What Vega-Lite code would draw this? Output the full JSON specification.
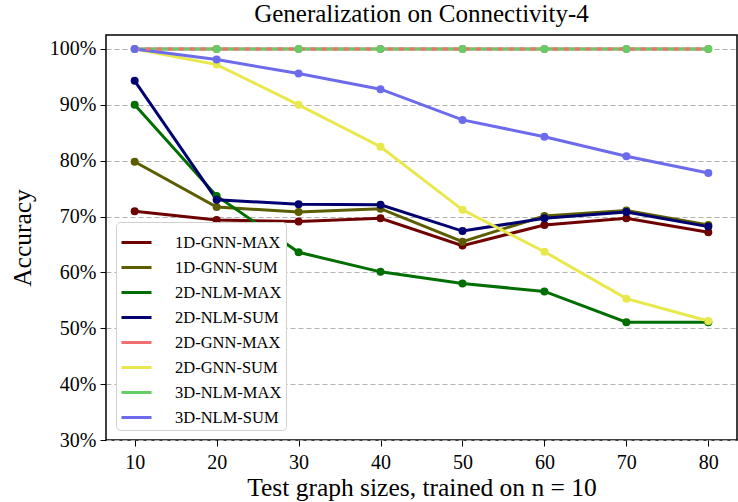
{
  "$schema": "https://vega.github.io/schema/vega-lite/v6.json",
  "autosize": {"type": "none"},
  "width": 631,
  "height": 405,
  "padding": {"left": 106, "top": 35, "right": 1, "bottom": 62},
  "background": "white",
  "title": {"text": "Generalization on Connectivity-4", "font": "Liberation Serif", "fontSize": 25, "fontWeight": "normal", "color": "black", "anchor": "middle", "offset": 8},
  "config": {
    "view": {"stroke": "black", "strokeWidth": 1.5},
    "title": {"font": "Liberation Serif"},
    "axis": {"labelFont": "Liberation Serif", "titleFont": "Liberation Serif", "labelColor": "black", "titleColor": "black", "tickColor": "black", "domain": false, "titleFontWeight": "normal"},
    "legend": {"labelFont": "Liberation Serif"}
  },
  "data": {"values": [
    {"series": "1D-GNN-MAX", "n": 10, "acc": 70.95},
    {"series": "1D-GNN-MAX", "n": 20, "acc": 69.4},
    {"series": "1D-GNN-MAX", "n": 30, "acc": 69.1},
    {"series": "1D-GNN-MAX", "n": 40, "acc": 69.7},
    {"series": "1D-GNN-MAX", "n": 50, "acc": 64.8},
    {"series": "1D-GNN-MAX", "n": 60, "acc": 68.5},
    {"series": "1D-GNN-MAX", "n": 70, "acc": 69.7},
    {"series": "1D-GNN-MAX", "n": 80, "acc": 67.2},
    {"series": "1D-GNN-SUM", "n": 10, "acc": 79.8},
    {"series": "1D-GNN-SUM", "n": 20, "acc": 71.7},
    {"series": "1D-GNN-SUM", "n": 30, "acc": 70.8},
    {"series": "1D-GNN-SUM", "n": 40, "acc": 71.4},
    {"series": "1D-GNN-SUM", "n": 50, "acc": 65.5},
    {"series": "1D-GNN-SUM", "n": 60, "acc": 70.1},
    {"series": "1D-GNN-SUM", "n": 70, "acc": 71.1},
    {"series": "1D-GNN-SUM", "n": 80, "acc": 68.5},
    {"series": "2D-NLM-MAX", "n": 10, "acc": 90.0},
    {"series": "2D-NLM-MAX", "n": 20, "acc": 73.7},
    {"series": "2D-NLM-MAX", "n": 30, "acc": 63.6},
    {"series": "2D-NLM-MAX", "n": 40, "acc": 60.1},
    {"series": "2D-NLM-MAX", "n": 50, "acc": 58.0},
    {"series": "2D-NLM-MAX", "n": 60, "acc": 56.6},
    {"series": "2D-NLM-MAX", "n": 70, "acc": 51.1},
    {"series": "2D-NLM-MAX", "n": 80, "acc": 51.1},
    {"series": "2D-NLM-SUM", "n": 10, "acc": 94.3},
    {"series": "2D-NLM-SUM", "n": 20, "acc": 73.0},
    {"series": "2D-NLM-SUM", "n": 30, "acc": 72.2},
    {"series": "2D-NLM-SUM", "n": 40, "acc": 72.1},
    {"series": "2D-NLM-SUM", "n": 50, "acc": 67.4},
    {"series": "2D-NLM-SUM", "n": 60, "acc": 69.7},
    {"series": "2D-NLM-SUM", "n": 70, "acc": 70.8},
    {"series": "2D-NLM-SUM", "n": 80, "acc": 68.2},
    {"series": "2D-GNN-MAX", "n": 10, "acc": 100},
    {"series": "2D-GNN-MAX", "n": 20, "acc": 100},
    {"series": "2D-GNN-MAX", "n": 30, "acc": 100},
    {"series": "2D-GNN-MAX", "n": 40, "acc": 100},
    {"series": "2D-GNN-MAX", "n": 50, "acc": 100},
    {"series": "2D-GNN-MAX", "n": 60, "acc": 100},
    {"series": "2D-GNN-MAX", "n": 70, "acc": 100},
    {"series": "2D-GNN-MAX", "n": 80, "acc": 100},
    {"series": "2D-GNN-SUM", "n": 10, "acc": 100},
    {"series": "2D-GNN-SUM", "n": 20, "acc": 97.2},
    {"series": "2D-GNN-SUM", "n": 30, "acc": 90.0},
    {"series": "2D-GNN-SUM", "n": 40, "acc": 82.5},
    {"series": "2D-GNN-SUM", "n": 50, "acc": 71.2},
    {"series": "2D-GNN-SUM", "n": 60, "acc": 63.7},
    {"series": "2D-GNN-SUM", "n": 70, "acc": 55.3},
    {"series": "2D-GNN-SUM", "n": 80, "acc": 51.3},
    {"series": "3D-NLM-MAX", "n": 10, "acc": 100},
    {"series": "3D-NLM-MAX", "n": 20, "acc": 100},
    {"series": "3D-NLM-MAX", "n": 30, "acc": 100},
    {"series": "3D-NLM-MAX", "n": 40, "acc": 100},
    {"series": "3D-NLM-MAX", "n": 50, "acc": 100},
    {"series": "3D-NLM-MAX", "n": 60, "acc": 100},
    {"series": "3D-NLM-MAX", "n": 70, "acc": 100},
    {"series": "3D-NLM-MAX", "n": 80, "acc": 100},
    {"series": "3D-NLM-SUM", "n": 10, "acc": 100},
    {"series": "3D-NLM-SUM", "n": 20, "acc": 98.1},
    {"series": "3D-NLM-SUM", "n": 30, "acc": 95.6},
    {"series": "3D-NLM-SUM", "n": 40, "acc": 92.8},
    {"series": "3D-NLM-SUM", "n": 50, "acc": 87.3},
    {"series": "3D-NLM-SUM", "n": 60, "acc": 84.3},
    {"series": "3D-NLM-SUM", "n": 70, "acc": 80.8},
    {"series": "3D-NLM-SUM", "n": 80, "acc": 77.8}
  ]},
  "encoding": {
    "x": {"field": "n", "type": "quantitative", "scale": {"domain": [6.5, 83.5], "nice": false, "zero": false},
      "axis": {"values": [10, 20, 30, 40, 50, 60, 70, 80], "grid": false, "title": "Test graph sizes, trained on n = 10", "labelFont": "Liberation Serif", "titleFont": "Liberation Serif", "labelFontSize": 20, "titleFontSize": 25.5, "tickSize": 6, "labelPadding": 6, "titlePadding": 3}},
    "y": {"field": "acc", "type": "quantitative", "scale": {"domain": [30, 102.5], "nice": false, "zero": false},
      "axis": {"values": [30, 40, 50, 60, 70, 80, 90, 100], "labelExpr": "datum.value + '%'", "grid": true, "gridColor": "#b0b0b0", "gridDash": [5, 3], "gridWidth": 1, "title": "Accuracy", "labelFont": "Liberation Serif", "titleFont": "Liberation Serif", "labelFontSize": 20, "titleFontSize": 25.5, "tickSize": 6, "labelPadding": 4, "titlePadding": 14}}
  },
  "layer": [
    {
      "mark": {"type": "line", "strokeWidth": 3},
      "encoding": {
        "color": {"field": "series", "type": "nominal",
          "scale": {"domain": ["1D-GNN-MAX", "1D-GNN-SUM", "2D-NLM-MAX", "2D-NLM-SUM", "2D-GNN-MAX", "2D-GNN-SUM", "3D-NLM-MAX", "3D-NLM-SUM"],
                    "range": ["#6e0000", "#5c5c00", "#006e00", "#000070", "#f07070", "#e8e84c", "#66cc66", "#6b6bec"]},
          "legend": {"title": null, "orient": "none", "legendX": 10, "legendY": 187, "labelFontSize": 16.5, "labelColor": "black", "symbolType": "stroke", "symbolSize": 900, "symbolStrokeWidth": 3, "labelOffset": 22, "rowPadding": -8, "padding": 4, "fillColor": "white", "strokeColor": "#d0d0d0", "cornerRadius": 4}}
      }
    },
    {
      "transform": [{"filter": "datum.series === '2D-GNN-MAX'"}],
      "mark": {"type": "line", "strokeWidth": 3, "color": "#f07070", "strokeDash": [5, 6]},
      "encoding": {}
    },
    {
      "mark": {"type": "point", "filled": true, "size": 64, "opacity": 1},
      "encoding": {
        "color": {"field": "series", "type": "nominal", "legend": null}
      }
    },
    {
      "transform": [{"filter": "datum.series === '3D-NLM-MAX' && datum.n > 10"}],
      "mark": {"type": "point", "filled": true, "size": 18, "opacity": 1, "color": "#66cc66"},
      "encoding": {}
    }
  ]
}
